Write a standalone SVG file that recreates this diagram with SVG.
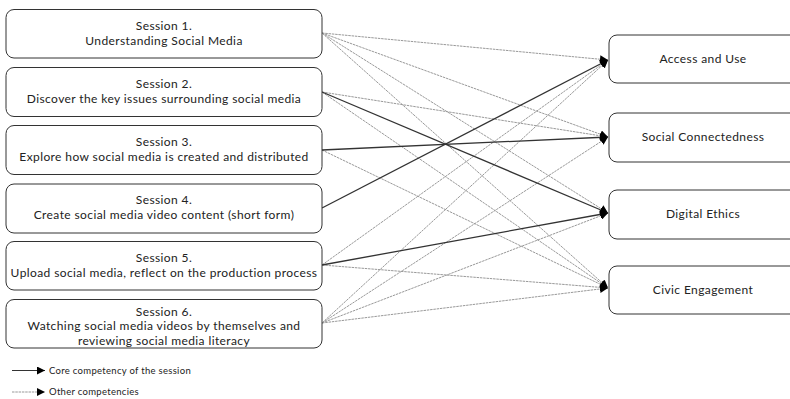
<svg xmlns="http://www.w3.org/2000/svg" width="790" height="399" viewBox="0 0 790 399">
<defs>
<style>
.box{fill:#fff;stroke:#333;stroke-width:1}
.t{font-family:Lato,"Liberation Sans",sans-serif;font-size:12px;letter-spacing:0.4px;fill:#222;text-anchor:middle}
.lg{font-family:Lato,"Liberation Sans",sans-serif;font-size:9.5px;letter-spacing:0.3px;fill:#222}
.core{stroke:#333;stroke-width:1.3;fill:none}
.oth{stroke:#999;stroke-width:1;stroke-dasharray:2.5 0.8;fill:none}
</style>
<marker id="ah" viewBox="0 0 10 10" refX="10" refY="5" markerWidth="8" markerHeight="8" markerUnits="userSpaceOnUse" orient="auto">
<path d="M0,0 L10,5 L0,10 z" fill="#000"/>
</marker>
</defs>
<rect width="790" height="399" fill="#fff"/>
<g id="connectors">
<line class="oth" x1="322" y1="33" x2="608" y2="60" marker-end="url(#ah)"/>
<line class="oth" x1="322" y1="33" x2="608" y2="137" marker-end="url(#ah)"/>
<line class="oth" x1="322" y1="33" x2="608" y2="213" marker-end="url(#ah)"/>
<line class="oth" x1="322" y1="33" x2="608" y2="288" marker-end="url(#ah)"/>
<line class="oth" x1="322" y1="92" x2="608" y2="137" marker-end="url(#ah)"/>
<line class="oth" x1="322" y1="92" x2="608" y2="288" marker-end="url(#ah)"/>
<line class="oth" x1="322" y1="150" x2="608" y2="288" marker-end="url(#ah)"/>
<line class="oth" x1="322" y1="265" x2="608" y2="60" marker-end="url(#ah)"/>
<line class="oth" x1="322" y1="265" x2="608" y2="288" marker-end="url(#ah)"/>
<line class="oth" x1="322" y1="323" x2="608" y2="60" marker-end="url(#ah)"/>
<line class="oth" x1="322" y1="323" x2="608" y2="137" marker-end="url(#ah)"/>
<line class="oth" x1="322" y1="323" x2="608" y2="213" marker-end="url(#ah)"/>
<line class="oth" x1="322" y1="323" x2="608" y2="288" marker-end="url(#ah)"/>
<line class="core" x1="322" y1="92" x2="608" y2="213" marker-end="url(#ah)"/>
<line class="core" x1="322" y1="150" x2="608" y2="137" marker-end="url(#ah)"/>
<line class="core" x1="322" y1="208" x2="608" y2="60" marker-end="url(#ah)"/>
<line class="core" x1="322" y1="265" x2="608" y2="213" marker-end="url(#ah)"/>
</g>
<g id="s1"><rect class="box" x="6" y="9.5" width="316" height="48.5" rx="8"/><text class="t" x="164" y="30">Session 1.</text><text class="t" x="164" y="44.5">Understanding Social Media</text></g>
<g id="s2"><rect class="box" x="6" y="67.5" width="316" height="49" rx="8"/><text class="t" x="164" y="88">Session 2.</text><text class="t" x="164" y="102.5">Discover the key issues surrounding social media</text></g>
<g id="s3"><rect class="box" x="6" y="125.5" width="316" height="49" rx="8"/><text class="t" x="164" y="146">Session 3.</text><text class="t" x="164" y="160.5">Explore how social media is created and distributed</text></g>
<g id="s4"><rect class="box" x="6" y="184" width="316" height="49" rx="8"/><text class="t" x="164" y="204">Session 4.</text><text class="t" x="164" y="218.5">Create social media video content (short form)</text></g>
<g id="s5"><rect class="box" x="6" y="241.5" width="316" height="48.5" rx="8"/><text class="t" x="164" y="262">Session 5.</text><text class="t" x="164" y="276.5">Upload social media, reflect on the production process</text></g>
<g id="s6"><rect class="box" x="6" y="299.5" width="316" height="48.5" rx="8"/><text class="t" x="164" y="316">Session 6.</text><text class="t" x="164" y="330.4">Watching social media videos by themselves and</text><text class="t" x="164" y="344.8">reviewing social media literacy</text></g>
<g id="c1"><rect class="box" x="609" y="35" width="190" height="48" rx="8"/><text class="t" x="703" y="63">Access and Use</text></g>
<g id="c2"><rect class="box" x="609" y="113" width="190" height="49" rx="8"/><text class="t" x="703" y="141">Social Connectedness</text></g>
<g id="c3"><rect class="box" x="609" y="190" width="190" height="49" rx="8"/><text class="t" x="703" y="218">Digital Ethics</text></g>
<g id="c4"><rect class="box" x="609" y="266" width="190" height="48" rx="8"/><text class="t" x="703" y="294">Civic Engagement</text></g>
<g id="legend">
<line stroke="#333" stroke-width="1" x1="12" y1="370.5" x2="45" y2="370.5" marker-end="url(#ah)"/>
<text class="lg" x="49" y="374">Core competency of the session</text>
<line class="oth" x1="12" y1="392" x2="45" y2="392" marker-end="url(#ah)"/>
<text class="lg" x="49" y="395">Other competencies</text>
</g>
</svg>
